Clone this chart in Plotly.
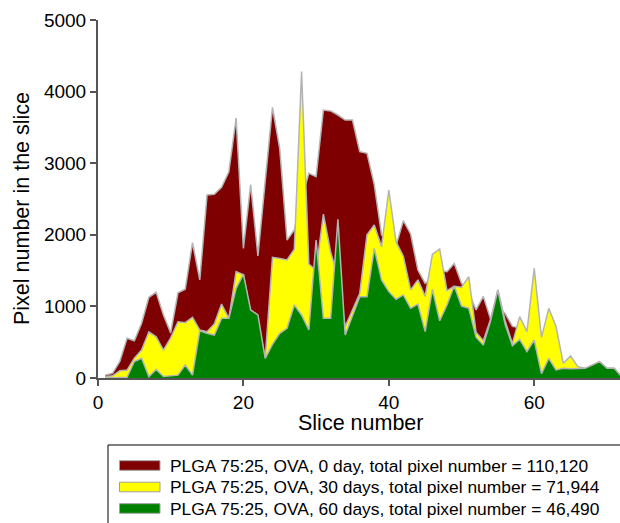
import plotly.graph_objects as go

slices = list(range(1, 73))

day0 = [40, 65, 230, 555, 520, 765, 1127, 1197, 880, 630,
        1190, 1240, 1890, 1370, 2555, 2565, 2663, 2880, 3630, 1810,
        2700, 1704, 2750, 3780, 3200, 1927, 2067, 2500, 2858, 2812,
        3743, 3730, 3673, 3603, 3603, 3160, 3138, 2700, 2000, 1900,
        1850, 2197, 2011, 1508, 1322, 1400, 1500, 1485, 1600, 1322,
        1200, 950, 1140, 820, 1000, 900, 720, 700, 500, 500,
        400, 400, 300, 150, 150, 100, 60, 50, 50, 40, 30, 10]

day30 = [20, 30, 100, 110, 275, 390, 645, 575, 390, 560,
         786, 772, 847, 670, 647, 754, 1033, 833, 1485, 1440,
         900, 780, 275, 1685, 1670, 1648, 1797, 4280, 1592, 1500,
         2290, 1760, 1400, 720, 950, 1180, 2000, 2137, 1834, 2626,
         1900, 1700, 1230, 1370, 1140, 1730, 1800, 1220, 1280, 1267,
         1415, 640, 520, 820, 1229, 800, 480, 857, 647, 1532,
         568, 973, 720, 205, 307, 158, 135, 180, 228, 135, 135, 20]

day60 = [0, 0, 0, 10, 230, 275, 20, 120, 20, 25,
         40, 180, 40, 660, 624, 600, 833, 833, 1252, 1452,
         950, 880, 275, 470, 624, 694, 1020, 880, 670, 1927,
         834, 834, 2216, 600, 880, 1136, 1136, 1810, 1370, 1206,
         1100, 1160, 973, 1033, 647, 1238, 800, 1020, 1285, 1005,
         973, 570, 460, 800, 1229, 750, 450, 540, 370, 530,
         60, 275, 112, 135, 130, 135, 135, 180, 228, 135, 135, 20]

names = ["PLGA 75:25, OVA, 0 day, total pixel number = 110,120",
         "PLGA 75:25, OVA, 30 days, total pixel number = 71,944",
         "PLGA 75:25, OVA, 60 days, total pixel number = 46,490"]
colors = ["#7f0000", "#ffff00", "#008000"]

x_ticks = [0, 20, 40, 60]
y_ticks = [0, 1000, 2000, 3000, 4000, 5000]

FONT = "Liberation Sans, Arial, Helvetica, sans-serif"
W, H = 620, 523
ML, MR, MT, MB = 98, 0, 20, 145
PW, PH = W - ML - MR, H - MT - MB


def px(xp):
    return (xp - ML) / PW


def py(yp):
    return (H - MB - yp) / PH


fig = go.Figure()
for vals, name, col in zip([day0, day30, day60], names, colors):
    fig.add_trace(go.Scatter(
        x=slices, y=vals, name=name, mode="lines",
        fill="tozeroy", fillcolor=col,
        line=dict(color="#b4b4b4", width=1.5),
        showlegend=False, hoverinfo="x+y+name"))

# Manual legend
shapes = [dict(type="rect", xref="paper", yref="paper",
               x0=px(108), x1=px(650), y0=py(445), y1=py(560),
               line=dict(color="black", width=1), fillcolor="white", layer="above")]
annotations = []
centers = [465.5, 487, 508.5]
for name, col, cy in zip(names, colors, centers):
    shapes.append(dict(type="rect", xref="paper", yref="paper",
                       x0=px(119.5), x1=px(160), y0=py(cy - 4.8), y1=py(cy + 4.8),
                       line=dict(color="#a0a0a0", width=1), fillcolor=col, layer="above"))
    annotations.append(dict(xref="paper", yref="paper", x=px(167.5), y=py(cy),
                            xanchor="left", yanchor="middle", showarrow=False,
                            text=name, font=dict(size=17.4, color="black", family=FONT)))

annotations.append(dict(xref="paper", yref="paper", x=px(360), y=py(423),
                        xanchor="center", yanchor="middle", showarrow=False,
                        text="Slice number", font=dict(size=21.5, color="black", family=FONT)))
annotations.append(dict(xref="paper", yref="paper", x=px(22), y=py(209),
                        xanchor="center", yanchor="middle", showarrow=False, textangle=-90,
                        text="Pixel number in the slice", font=dict(size=21.5, color="black", family=FONT)))

fig.update_layout(
    width=W, height=H,
    margin=dict(l=ML, r=MR, t=MT, b=MB, pad=0),
    paper_bgcolor="white", plot_bgcolor="white",
    font=dict(family=FONT, size=19, color="black"),
    shapes=shapes, annotations=annotations,
    showlegend=False,
)
fig.update_xaxes(range=[0, 71.8], tickvals=x_ticks, ticktext=[str(v) for v in x_ticks],
                 showgrid=False, zeroline=False, showline=True, linecolor="#555555", linewidth=2,
                 ticks="outside", ticklen=6, tickwidth=1.5, tickcolor="#555555",
                 tickfont=dict(size=19, family=FONT, color="black"))
fig.update_yaxes(range=[0, 5000], tickvals=y_ticks, ticktext=[str(v) for v in y_ticks],
                 showgrid=False, zeroline=False, showline=True, linecolor="#555555", linewidth=2,
                 ticks="outside", ticklen=6, tickwidth=1.5, tickcolor="#555555",
                 tickfont=dict(size=19, family=FONT, color="black"))

fig.write_html("out.html")
